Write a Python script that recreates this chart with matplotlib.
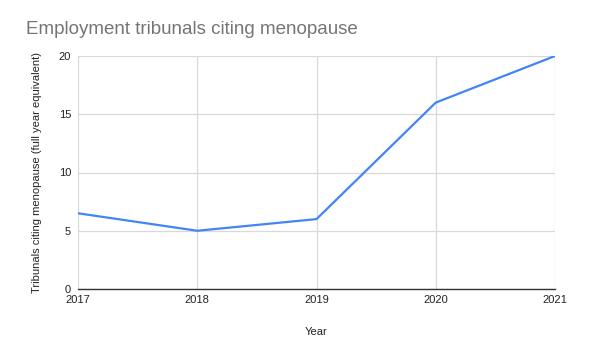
import matplotlib
matplotlib.use("Agg")
import matplotlib.pyplot as plt

years = [2017, 2018, 2019, 2020, 2021]
tribunals = [6.5, 5, 6, 16, 20]
yticks = [0, 5, 10, 15, 20]

plt.rcParams['font.family'] = ['Liberation Sans', 'DejaVu Sans']

fig = plt.figure(figsize=(5.99, 3.57), dpi=100)
ax = fig.add_axes([78/599, 68/357, (555-78)/599, (289-56)/357])

ax.plot(years, tribunals, color='#4285F4', linewidth=1.6, solid_joinstyle='round', zorder=3)
ax.set_xlim(2017, 2021)
ax.set_ylim(0, 20)
ax.set_xticks(years)
ax.set_yticks(yticks)
ax.grid(True, color='#d9d9d9', linewidth=0.9, zorder=0)
for s in ['top', 'left', 'right']:
    ax.spines[s].set_visible(False)
ax.spines['bottom'].set_color('#333333')
ax.spines['bottom'].set_linewidth(1.0)
ax.spines['bottom'].set_zorder(4)
ax.tick_params(axis='both', length=0, labelsize=8, colors='#222222')
ax.tick_params(axis='x', pad=4)
ax.tick_params(axis='y', pad=5)

ax.set_xlabel('Year', fontsize=8, color='#222222', labelpad=16)
ax.set_ylabel('Tribunals citing menopause (full year equivalent)', fontsize=8, color='#222222', labelpad=12)

fig.text(26/599, 1 - 30/357, 'Employment tribunals citing menopause', fontsize=13.5,
         color='#757575', ha='left', va='center')

fig.savefig('out.png', dpi=100)
